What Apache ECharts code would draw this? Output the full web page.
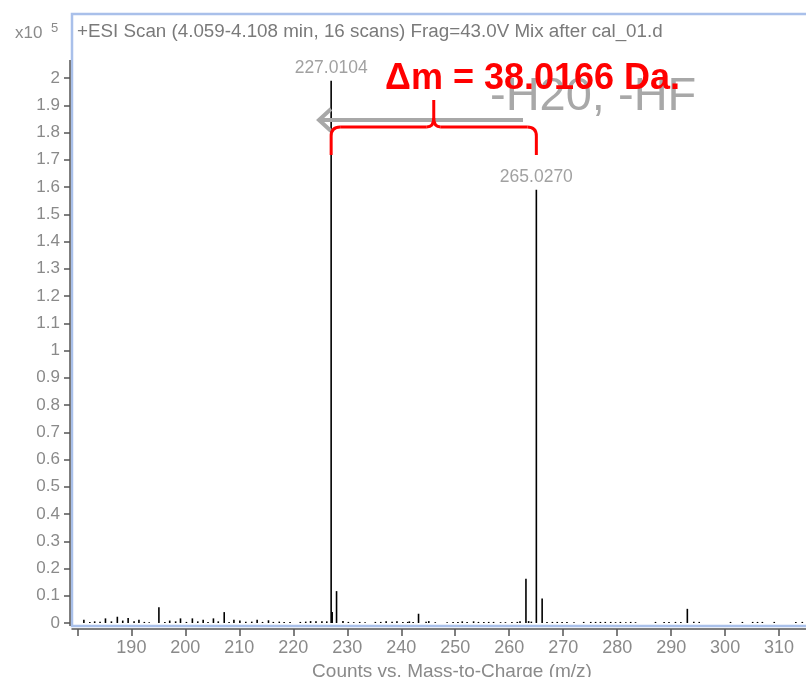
<!DOCTYPE html>
<html>
<head>
<meta charset="utf-8">
<script src="https://cdn.jsdelivr.net/npm/echarts@6/dist/echarts.min.js"></script>
<style>
  html, body { margin: 0; padding: 0; background: #fff; }
  #chart { width: 806px; height: 677px; }
</style>
</head>
<body>
<div id="chart"></div>
<script>
// Intensities are in units of 10^5 counts.
const titleText = '+ESI Scan (4.059-4.108 min, 16 scans) Frag=43.0V Mix after cal_01.d';
const xAxisName = 'Counts vs. Mass-to-Charge (m/z)';

// Main ions (m/z, intensity)
const peakMz  = [195.1, 207.2, 227.0104, 227.2, 228.01, 243.2, 263.1, 265.0270, 266.1, 293.0];
const peakInt = [0.058, 0.040, 1.99,     0.040, 0.117,  0.034, 0.162, 1.59,    0.090, 0.052];

// Ions tagged with their m/z
const labelledMz  = [227.0104, 265.0270];
const labelledInt = [1.99, 1.59];

// Low-level background ions
const noiseMz = [181.2, 182.3, 183.2, 184.2, 185.2, 186.3, 187.4, 188.4, 189.4, 190.5,
  191.4, 192.4, 193.3, 196.2, 197.1, 198.2, 199.1, 200.2, 201.3, 202.3,
  203.3, 204.2, 205.2, 206.1, 208.1, 209.0, 210.1, 211.2, 212.3, 213.3,
  214.3, 215.4, 216.3, 217.4, 218.3, 219.4, 221.3, 222.3, 223.2, 224.2,
  225.3, 226.2, 229.2, 230.2, 231.2, 232.3, 233.3, 235.2, 236.2, 237.2,
  238.3, 239.2, 240.3, 241.2, 241.5, 242.2, 244.6, 245.1, 246.3, 248.5,
  249.6, 250.5, 251.3, 252.2, 253.4, 254.3, 255.3, 256.2, 257.1, 258.4,
  259.3, 260.5, 261.5, 262.0, 263.6, 264.1, 267.0, 268.0, 268.9, 269.8,
  270.7, 272.0, 273.8, 275.1, 276.0, 276.9, 277.8, 278.8, 279.7, 280.6,
  281.6, 282.5, 283.4, 287.1, 288.7, 289.6, 290.8, 291.8, 294.2, 295.2,
  301.0, 303.2, 305.1, 306.0, 306.9, 309.1, 313.1, 314.3];
const noiseInt = [0.012, 0.004, 0.006, 0.005, 0.017, 0.006, 0.023, 0.009, 0.018, 0.006,
  0.012, 0.004, 0.003, 0.004, 0.009, 0.006, 0.017, 0.004, 0.017, 0.006,
  0.012, 0.004, 0.017, 0.006, 0.004, 0.012, 0.009, 0.005, 0.005, 0.012,
  0.004, 0.010, 0.004, 0.005, 0.004, 0.004, 0.004, 0.005, 0.007, 0.006,
  0.006, 0.006, 0.007, 0.004, 0.003, 0.004, 0.003, 0.004, 0.004, 0.006,
  0.005, 0.006, 0.004, 0.004, 0.006, 0.004, 0.005, 0.007, 0.003, 0.003,
  0.004, 0.004, 0.006, 0.004, 0.006, 0.004, 0.004, 0.004, 0.004, 0.003,
  0.003, 0.004, 0.004, 0.006, 0.007, 0.005, 0.004, 0.004, 0.004, 0.004,
  0.004, 0.003, 0.004, 0.004, 0.004, 0.004, 0.004, 0.004, 0.003, 0.004,
  0.003, 0.004, 0.003, 0.004, 0.004, 0.004, 0.004, 0.004, 0.005, 0.004,
  0.004, 0.004, 0.004, 0.004, 0.004, 0.004, 0.004, 0.004];

// Axis ticks
const xTicks  = [180, 190, 200, 210, 220, 230, 240, 250, 260, 270, 280, 290, 300, 310];
const xLabels = [190, 200, 210, 220, 230, 240, 250, 260, 270, 280, 290, 300, 310];
const yTicks  = [0, 0.1, 0.2, 0.3, 0.4, 0.5, 0.6, 0.7, 0.8, 0.9, 1, 1.1, 1.2, 1.3, 1.4, 1.5, 1.6, 1.7, 1.8, 1.9, 2];

const deltaText = 'Δm = 38.0166 Da.';
const lossText = '-H20, -HF';

const FONT = '"Liberation Sans", Arial, Helvetica, sans-serif';
const GREY = '#8a8a8a';
const AXIS = '#555';

const stickData = [];
peakMz.forEach((m, i) => stickData.push([m, peakInt[i]]));
noiseMz.forEach((m, i) => stickData.push([m, noiseInt[i]]));

const chart = echarts.init(document.getElementById('chart'), null, { renderer: 'canvas' });

const option = {
  animation: false,
  backgroundColor: '#fff',
  textStyle: { fontFamily: FONT },
  title: {
    text: titleText,
    left: 72, top: 17,
    textStyle: { fontSize: 18.8, fontWeight: 'normal', color: '#7a7a7a', fontFamily: FONT }
  },
  grid: {
    left: 72, top: 14, width: 760, height: 612,
    outerBoundsMode: 'none', containLabel: false,
    show: true, borderColor: '#a9c0ea', borderWidth: 2.5, backgroundColor: 'transparent'
  },
  xAxis: {
    type: 'value', min: 179, max: 319.8, offset: 3,
    name: xAxisName, nameLocation: 'middle', nameGap: 32,
    nameTextStyle: { fontSize: 19, color: GREY, fontFamily: FONT },
    splitLine: { show: false },
    axisLine: { show: true, onZero: false, lineStyle: { color: AXIS, width: 1.5 } },
    axisTick: { show: true, length: 7, customValues: xTicks, lineStyle: { color: AXIS, width: 1.5 } },
    axisLabel: { customValues: xLabels, fontSize: 18, color: GREY, margin: 10, fontFamily: FONT }
  },
  yAxis: {
    type: 'value', min: -0.011, max: 2.235, offset: 2,
    splitLine: { show: false },
    axisLine: { show: false },
    axisTick: { show: true, length: 6, customValues: yTicks, lineStyle: { color: AXIS, width: 1.5 } },
    axisLabel: {
      customValues: yTicks, fontSize: 17, color: GREY, margin: 10, fontFamily: FONT,
      formatter: v => String(Number(v.toFixed(1)))
    }
  },
  series: [
    {
      type: 'custom',
      clip: true,
      data: stickData,
      renderItem: (params, api) => {
        const m = api.value(0), v = api.value(1);
        const p0 = api.coord([m, 0]);
        const p1 = api.coord([m, v]);
        return {
          type: 'line',
          shape: { x1: p0[0], y1: p0[1], x2: p1[0], y2: p1[1] },
          style: { stroke: '#000', lineWidth: 1.6 }
        };
      },
      z: 3
    },
    {
      type: 'scatter',
      symbolSize: 0,
      data: labelledMz.map((m, i) => [m, labelledInt[i]]),
      label: {
        show: true, position: 'top', distance: 4,
        fontSize: 17.5, color: GREY, fontFamily: FONT,
        formatter: p => p.value[0].toFixed(4)
      },
      z: 4
    }
  ]
};
chart.setOption(option);

// Annotations: y-axis line, x10^5 unit, neutral-loss arrow and the mass-difference brace
const xL = chart.convertToPixel({ xAxisIndex: 0 }, labelledMz[0]);
const xR = chart.convertToPixel({ xAxisIndex: 0 }, labelledMz[1]);
const xM = (xL + xR) / 2;
const yBase = chart.convertToPixel({ yAxisIndex: 0 }, -0.011);

const braceTop = 127, braceFoot = 155, cusp = 100, r = 9;
const braceStyle = { stroke: '#ff0000', lineWidth: 3, fill: null };
const brace = [
  { type: 'line', shape: { x1: xL, y1: braceFoot, x2: xL, y2: braceTop + r } },
  { type: 'bezierCurve', shape: { x1: xL, y1: braceTop + r, cpx1: xL, cpy1: braceTop, x2: xL + r, y2: braceTop } },
  { type: 'line', shape: { x1: xL + r, y1: braceTop, x2: xM - 7, y2: braceTop } },
  { type: 'bezierCurve', shape: { x1: xM - 7, y1: braceTop, cpx1: xM, cpy1: braceTop, x2: xM, y2: braceTop - r } },
  { type: 'line', shape: { x1: xM, y1: braceTop - r, x2: xM, y2: cusp } },
  { type: 'bezierCurve', shape: { x1: xM + 7, y1: braceTop, cpx1: xM, cpy1: braceTop, x2: xM, y2: braceTop - r } },
  { type: 'line', shape: { x1: xM + 7, y1: braceTop, x2: xR - r, y2: braceTop } },
  { type: 'bezierCurve', shape: { x1: xR - r, y1: braceTop, cpx1: xR, cpy1: braceTop, x2: xR, y2: braceTop + r } },
  { type: 'line', shape: { x1: xR, y1: braceTop + r, x2: xR, y2: braceFoot } }
].map(el => Object.assign(el, { style: braceStyle, z: 21 }));

chart.setOption({
  graphic: [
    { type: 'line', shape: { x1: 70, y1: 60, x2: 70, y2: yBase }, style: { stroke: AXIS, lineWidth: 1.5 }, z: 10 },
    { type: 'text', x: 15, y: 33, style: { text: 'x10', font: `17px ${FONT}`, fill: GREY, textVerticalAlign: 'middle' }, z: 10 },
    { type: 'text', x: 51, y: 28, style: { text: '5', font: `13px ${FONT}`, fill: GREY, textVerticalAlign: 'middle' }, z: 10 },
    { type: 'text', x: 490, y: 97, style: { text: lossText, font: `47px ${FONT}`, fill: '#a8a8a8', textVerticalAlign: 'middle' }, z: 20 },
    { type: 'polyline', shape: { points: [[523, 120], [318, 120]] }, style: { stroke: '#a8a8a8', lineWidth: 4, fill: null }, z: 20 },
    { type: 'polyline', shape: { points: [[331, 109], [319, 120], [331, 131]] }, style: { stroke: '#a8a8a8', lineWidth: 4, fill: null, lineJoin: 'miter' }, z: 20 },
    ...brace,
    { type: 'text', x: 385, y: 79, style: { text: deltaText, font: `bold 36px ${FONT}`, fill: '#ff0000', textVerticalAlign: 'middle' }, z: 22 }
  ]
});
</script>
</body>
</html>
